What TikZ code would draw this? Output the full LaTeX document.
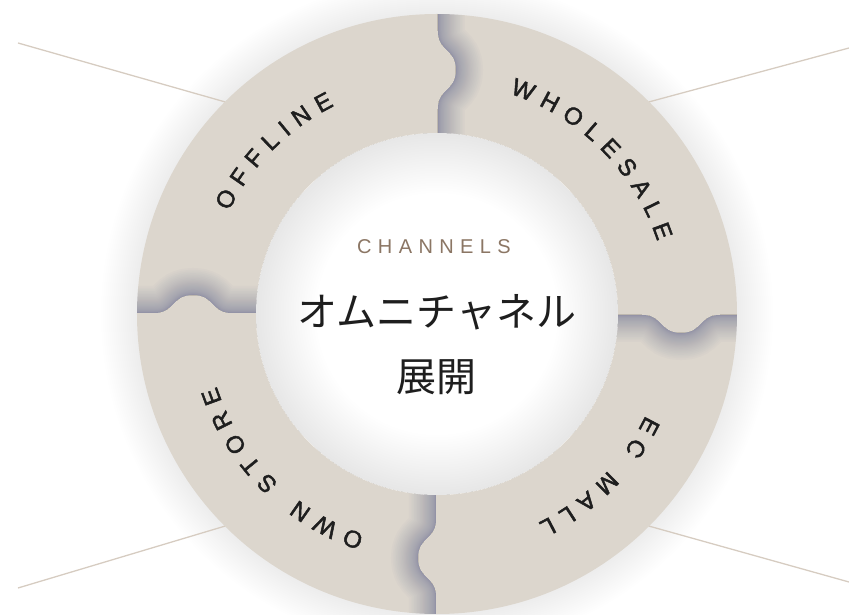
\documentclass[tikz,border=0pt]{standalone}
\usepackage{fontspec}
\usetikzlibrary{positioning,decorations.text}

\definecolor{ringbeige}{RGB}{220,214,205}
\definecolor{leader}{RGB}{214,204,193}
\definecolor{tabshadow}{RGB}{112,117,152}
\definecolor{capbrown}{RGB}{139,118,100}
\definecolor{ink}{RGB}{30,30,30}

\newfontfamily\ringfont[WordSpace=1.26,FakeBold=2]{Liberation Sans}
\newfontfamily\capfont[LetterSpace=32]{Liberation Sans}
\newfontfamily\jpfont{Noto Sans CJK JP}

\newcommand\tabpath{(1,310) -- (1,283) .. controls (1,262) and (19,266) .. (19,244) .. controls (19,222) and (1,226) .. (1,205) -- (1,170)}

\begin{document}
\begin{tikzpicture}[x=1pt,y=1pt,node distance=65pt,
  leader line/.style={draw=leader,line width=1.3pt},
  ring label/.style={decorate,decoration={text along path,text align=center}}]
\useasboundingbox (-437,-301) rectangle (412,314);

\node[circle,minimum size=600pt,inner sep=0pt,outer sep=0pt] (ring) at (0,0) {};

% soft halo round the ring
\foreach \w in {4,8,...,72}
  \draw[black,opacity=0.0035,line width=\w pt] (0,0) circle (300);

\coordinate (offline tip) at (-419,271);
\coordinate (wholesale tip) at (412,266);
\coordinate (ecmall tip) at (412,-268);
\coordinate (ownstore tip) at (-419,-274);

\draw[leader line] (offline tip) -- (ring.135);
\draw[leader line] (wholesale tip) -- (ring.45);
\draw[leader line] (ecmall tip) -- (ring.-45);
\draw[leader line] (ownstore tip) -- (ring.-135);

\fill[ringbeige] (0,0) circle (300);

% shadows of the interlocking tabs
\foreach \a in {0,-90,-180,-270}{
  \begin{scope}[rotate=\a]
    \clip (0,0) circle (300);
    \clip \tabpath -- (60,170) -- (60,310) -- cycle;
    \foreach \i in {1,...,30}{
      \pgfmathsetmacro\w{0.06*\i*\i}
      \draw[tabshadow,opacity=0.03,line width=\w pt] \tabpath;
    }
  \end{scope}
}

\fill[white] (0,0) circle (181);
\begin{scope}
  \clip (0,0) circle (181);
  \foreach \w in {5,10,...,120}
    \draw[black,opacity=0.0035,line width=\w pt] (0,0) circle (181);
\end{scope}

\path[ring label,decoration={text={|\ringfont\fontsize{24}{28}\selectfont\color{ink}|O F F L I N E}}]
  (180:232) arc[start angle=180,end angle=90,radius=232];
\path[ring label,decoration={text={|\ringfont\fontsize{24}{28}\selectfont\color{ink}|W H O L E S A L E}}]
  (90:232) arc[start angle=90,end angle=0,radius=232];
\path[ring label,decoration={text={|\ringfont\fontsize{24}{28}\selectfont\color{ink}|E C\ \ \ M A L L}}]
  (0:232) arc[start angle=0,end angle=-90,radius=232];
\path[ring label,decoration={text={|\ringfont\fontsize{24}{28}\selectfont\color{ink}|O W N\ \ \ S T O R E}}]
  (-90:232) arc[start angle=-90,end angle=-180,radius=232];

\node[font={\capfont\fontsize{20}{24}\selectfont},text=capbrown] (channels) at (-3,67) {CHANNELS};
\node[font={\jpfont\fontsize{40}{48}\selectfont},text=ink] (omni) [below of = channels, xshift=3pt] {オムニチャネル};
\node[font={\jpfont\fontsize{40}{48}\selectfont},text=ink] (tenkai) [below of = omni] {展開};
\end{tikzpicture}
\end{document}
